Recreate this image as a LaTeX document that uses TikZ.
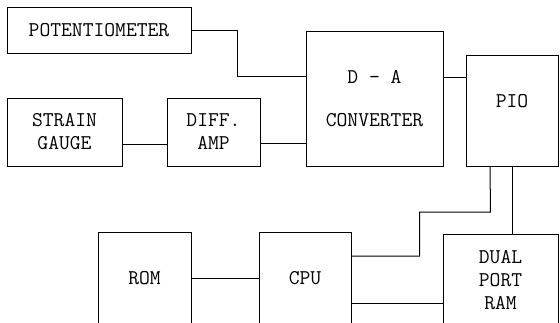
\documentclass[tikz,border=0pt]{standalone}
\usetikzlibrary{calc}

\begin{document}
\begin{tikzpicture}[
            x=1pt, y=-1pt,
            blk/.style={rectangle, draw=black, line width=1pt, fill=white, align=center, inner sep=0pt, font=\ttfamily\fontsize{21}{23}\selectfont},
            wire/.style={line width=1pt, color=black}
        ]
            \useasboundingbox (0,0) rectangle (560,322);
            \clip (0,0) rectangle (560,322);

            % Sensor side
            \node[blk, minimum width=184pt, minimum height=46pt] (pot) at (99,30) {POTENTIOMETER};
            \node[blk, minimum width=115pt, minimum height=68pt] (gauge) at (64.5,132) {STRAIN\\GAUGE};
            \node[blk, minimum width=93pt, minimum height=68pt] (amp) at (213.5,132) {DIFF.\\AMP};

            % Converter and I/O
            \node[blk, minimum width=137pt, minimum height=135pt, font=\ttfamily\fontsize{21}{43}\selectfont] (dac) at (374.5,98.5) {D \textendash{} A\\CONVERTER};
            \node[blk, minimum width=92pt, minimum height=111pt, text depth=20pt] (pio) at (512,110.5) {PIO};

            % Processor side
            \node[blk, minimum width=93pt, minimum height=92pt] (rom) at (144.5,278) {ROM};
            \node[blk, minimum width=92pt, minimum height=92pt] (cpu) at (305,278) {CPU};
            \node[blk, minimum width=115pt, minimum height=92pt] (ram) at (500.5,280) {DUAL\\PORT\\RAM};

            % Connections
            \draw[wire] (pot.east) -- ++(46,0) |- ([yshift=22.5pt]dac.west);
            \draw[wire] ([yshift=-12pt]gauge.east) -- ([yshift=-12pt]amp.west);
            \draw[wire] ([yshift=-11pt]amp.east) -- ([yshift=-44.5pt]dac.west);
            \draw[wire] ([yshift=21.5pt]dac.east) -- ([yshift=33.5pt]pio.west);
            \draw[wire] (rom.east) -- (cpu.west);
            \draw[wire] ([yshift=-25pt]cpu.east) -- ([yshift=-23pt]ram.west);
            \draw[wire] ([yshift=22pt]cpu.east) -| ++(68,-44) -- ++(71,0) -- ([xshift=-22pt]pio.south);
            \draw[wire] (pio.south) -- (pio.south |- ram.north);
        \end{tikzpicture}
\end{document}
